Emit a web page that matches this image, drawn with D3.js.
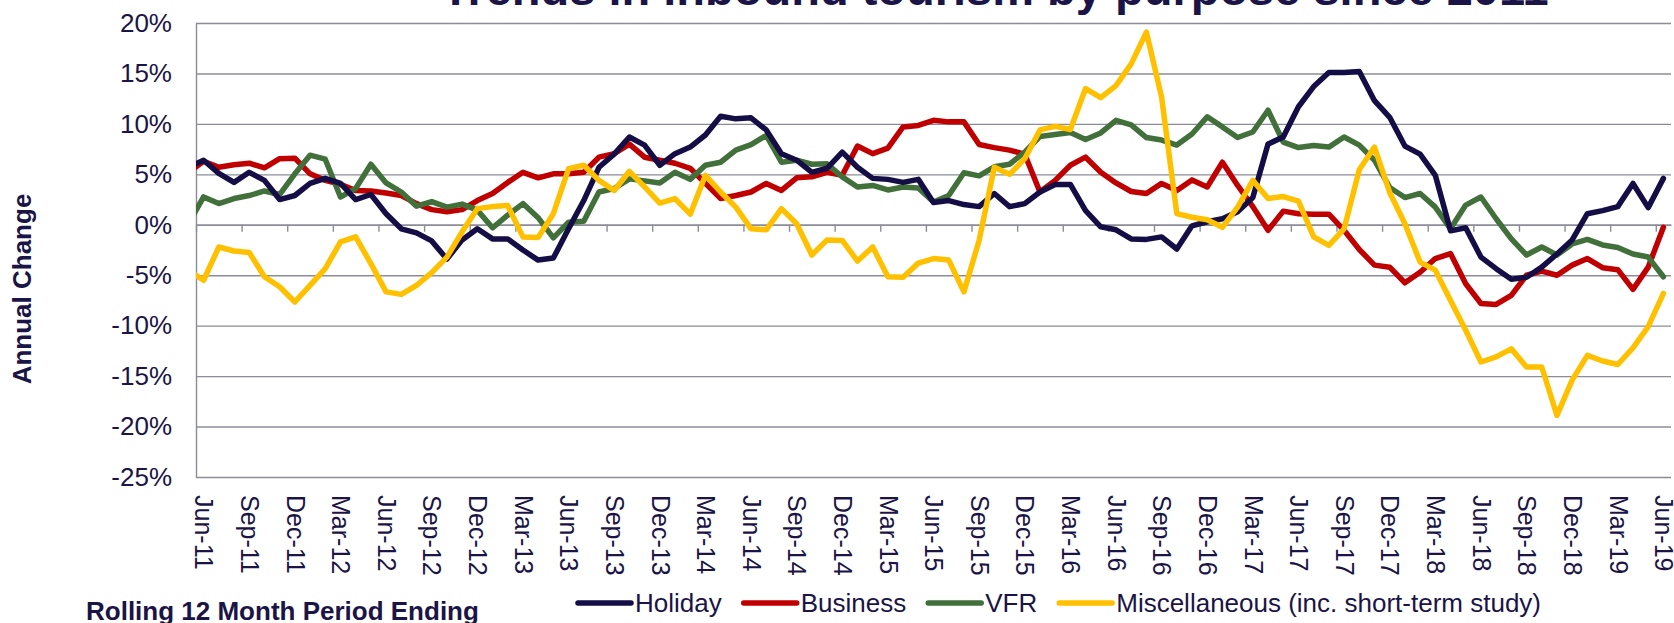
<!DOCTYPE html>
<html>
<head>
<meta charset="utf-8">
<script src="https://cdn.jsdelivr.net/npm/d3@7"></script>
<style>
  body { margin: 0; background: #fff; }
  svg { display: block; font-family: "Liberation Sans", Arial, sans-serif; }
</style>
</head>
<body>
<div id="chart"></div>
<script>
// first value is May-11, only a stub of it shows at the left edge of the plot
const firstMonth = new Date(2011, 4, 1);
const holiday = [5.7, 6.4, 5.1, 4.2, 5.2, 4.4, 2.5, 2.9, 4.1, 4.6, 4.1, 2.5, 3.0, 1.1, -0.4, -0.8, -1.6,
  -3.4, -1.5, -0.4, -1.4, -1.4, -2.5, -3.5, -3.3, -0.4, 2.4, 5.7, 7.0, 8.7, 7.9, 5.9, 7.05,
  7.7, 8.9, 10.75, 10.5, 10.6, 9.4, 7.05, 6.4, 5.2, 5.6, 7.2, 5.7, 4.6, 4.5, 4.2, 4.5,
  2.2, 2.4, 2.0, 1.8, 3.1, 1.8, 2.1, 3.25, 4.0, 4.0, 1.4, -0.2, -0.5, -1.4, -1.45, -1.2,
  -2.4, -0.1, 0.3, 0.6, 1.3, 2.7, 8.0, 8.7, 11.7, 13.7, 15.1, 15.1, 15.2, 12.3, 10.65, 7.8,
  7.0, 4.9, -0.6, -0.3, -3.2, -4.35, -5.4, -5.2, -4.2, -2.9, -1.5, 1.1, 1.4, 1.8, 4.1, 1.7, 4.6];
const business = [5.2, 6.3, 5.7, 5.95, 6.1, 5.65, 6.55, 6.6, 5.05, 4.4, 4.0, 3.4, 3.35, 3.15, 2.9, 2.1, 1.5,
  1.3, 1.5, 2.4, 3.1, 4.2, 5.2, 4.65, 5.05, 5.05, 5.2, 6.7, 7.05, 8.0, 6.7, 6.4, 6.1,
  5.6, 4.1, 2.6, 2.9, 3.25, 4.1, 3.4, 4.65, 4.75, 5.2, 4.9, 7.8, 7.05, 7.6, 9.7, 9.85,
  10.35, 10.2, 10.2, 7.95, 7.65, 7.4, 7.0, 3.25, 4.4, 5.9, 6.7, 5.2, 4.15, 3.3, 3.1, 4.1,
  3.4, 4.45, 3.75, 6.2, 3.9, 1.8, -0.55, 1.35, 1.1, 1.05, 1.05, -0.55, -2.45, -4.0, -4.2, -5.75,
  -4.7, -3.35, -2.85, -5.85, -7.8, -7.9, -7.0, -5.0, -4.6, -5.0, -4.0, -3.35, -4.25, -4.45, -6.4, -4.2, -0.25];
const vfr = [0.1, 2.76, 2.1, 2.6, 2.9, 3.35, 3.0, 5.05, 6.9, 6.5, 2.75, 3.6, 6.0, 4.15, 3.25, 1.85, 2.3,
  1.75, 2.05, 1.45, -0.3, 0.95, 2.1, 0.7, -1.3, 0.25, 0.35, 3.25, 3.6, 4.55, 4.35, 4.15, 5.2,
  4.5, 5.9, 6.2, 7.4, 7.95, 8.85, 6.2, 6.4, 6.0, 6.05, 4.75, 3.75, 3.9, 3.45, 3.75, 3.65,
  2.25, 2.9, 5.15, 4.85, 5.75, 6.0, 7.2, 8.75, 8.95, 9.15, 8.45, 9.1, 10.35, 9.9, 8.65, 8.4,
  7.9, 9.0, 10.7, 9.7, 8.65, 9.2, 11.35, 8.2, 7.65, 7.85, 7.7, 8.7, 7.9, 6.4, 3.7, 2.7,
  3.1, 1.75, -0.4, 1.95, 2.75, 0.6, -1.4, -3.0, -2.2, -3.0, -1.9, -1.45, -2.0, -2.25, -2.9, -3.2, -5.15];
const misc = [-4.5, -5.5, -2.2, -2.6, -2.75, -5.15, -6.15, -7.65, -6.0, -4.35, -1.7, -1.2, -3.85, -6.65, -6.9, -6.0, -4.75,
  -3.2, -0.7, 1.6, 1.8, 1.9, -1.2, -1.25, 1.1, 5.55, 5.9, 4.4, 3.4, 5.3, 3.75, 2.15, 2.6,
  1.05, 4.9, 3.25, 1.75, -0.4, -0.5, 1.6, 0.1, -3.0, -1.5, -1.55, -3.6, -2.2, -5.15, -5.2, -3.8,
  -3.35, -3.5, -6.65, -1.55, 5.7, 5.0, 6.55, 9.4, 9.75, 9.45, 13.5, 12.6, 13.8, 15.95, 19.1, 12.65,
  1.1, 0.75, 0.5, -0.25, 1.75, 4.4, 2.6, 2.8, 2.35, -1.2, -2.05, -0.4, 5.45, 7.7, 3.2, 0.1,
  -3.7, -4.5, -7.5, -10.45, -13.6, -13.1, -12.3, -14.1, -14.1, -18.9, -15.4, -12.95, -13.5, -13.85, -12.2, -10.1, -6.8];

const seriesNames = ["Holiday", "Business", "VFR", "Miscellaneous (inc. short-term study)"];
const seriesColors = ["#150d45", "#c00000", "#42703a", "#ffc000"];
const yTicks = [20, 15, 10, 5, 0, -5, -10, -15, -20, -25];

const months = d3.timeMonth.range(firstMonth, d3.timeMonth.offset(firstMonth, holiday.length));
const fmt = d3.timeFormat("%b-%y");
const monthIdx = months.map((d, i) => i - 1);         // Jun-11 = 0
const labelIdx = monthIdx.filter(i => i >= 0 && i % 3 === 0);

const width = 1674, height = 623;
const margin = { left: 196, top: 23, right: 3, bottom: 146 };
const innerWidth = width - margin.left - margin.right;
const innerHeight = height - margin.top - margin.bottom;
const textColor = "#1b1446";
const gridColor = "#8c8c98";

const svg = d3.select("#chart")
  .append("svg")
    .attr("width", width)
    .attr("height", height);

const innerChart = svg
  .append("g")
    .attr("transform", `translate(${margin.left}, ${margin.top})`);

const xScale = d3.scaleLinear()
  .domain([-0.5, labelIdx[labelIdx.length - 1] + 0.5])
  .range([0, innerWidth]);

const yScale = d3.scaleLinear()
  .domain([-25, 20])
  .range([innerHeight, 0]);

// gridlines
innerChart.append("g")
  .call(d3.axisLeft(yScale).tickValues(yTicks).tickSize(-innerWidth).tickFormat(""))
  .call(g => g.select(".domain").remove())
  .call(g => g.selectAll("line").attr("stroke", gridColor).attr("stroke-width", 1.4));

// y labels
innerChart.append("g")
  .call(d3.axisLeft(yScale).tickValues(yTicks).tickSize(0).tickPadding(24).tickFormat(d => d + "%"))
  .call(g => g.select(".domain").attr("stroke", gridColor).attr("stroke-width", 1.4))
  .call(g => g.selectAll("text").attr("fill", textColor).style("font-size", "26px"));

// category axis sits on 0%, ticks at category boundaries
innerChart.append("g")
  .attr("transform", `translate(0, ${yScale(0)})`)
  .call(d3.axisBottom(xScale).tickValues(labelIdx.map(i => i - 0.5)).tickSize(7).tickFormat("").tickSizeOuter(0))
  .call(g => g.selectAll("line, path").attr("stroke", gridColor).attr("stroke-width", 1.4));

// month labels at the bottom
innerChart.append("g")
  .attr("transform", `translate(0, ${innerHeight})`)
  .call(d3.axisBottom(xScale).tickValues(labelIdx).tickSize(0).tickFormat(i => fmt(months[i + 1])))
  .call(g => g.select(".domain").remove())
  .call(g => g.selectAll("text")
    .attr("transform", "rotate(90)")
    .attr("x", 18)
    .attr("y", 0)
    .attr("dy", "0.35em")
    .attr("text-anchor", "start")
    .attr("fill", textColor)
    .style("font-size", "25px"));

svg.append("clipPath")
  .attr("id", "plot-clip")
  .append("rect")
    .attr("width", innerWidth)
    .attr("height", innerHeight);

const lineGenerator = d3.line()
  .x((d, i) => xScale(monthIdx[i]))
  .y(d => yScale(d));

const allSeries = [holiday, business, vfr, misc];

// drawn back to front: misc on top
innerChart.append("g")
  .attr("clip-path", "url(#plot-clip)")
  .selectAll("path")
  .data([1, 2, 0, 3])
  .join("path")
    .attr("d", k => lineGenerator(allSeries[k]))
    .attr("fill", "none")
    .attr("stroke", k => seriesColors[k])
    .attr("stroke-width", 5.5)
    .attr("stroke-linejoin", "round")
    .attr("stroke-linecap", "round");

// title, mostly cut off at the top
svg.append("text")
  .attr("x", 995)
  .attr("y", 5)
  .attr("text-anchor", "middle")
  .attr("fill", textColor)
  .style("font-size", "47px")
  .style("font-weight", "bold")
  .text("Trends in inbound tourism by purpose since 2011");

svg.append("text")
  .attr("transform", "translate(31, 289) rotate(-90)")
  .attr("text-anchor", "middle")
  .attr("fill", textColor)
  .style("font-size", "26px")
  .style("font-weight", "bold")
  .text("Annual Change");

svg.append("text")
  .attr("x", 86)
  .attr("y", 620)
  .attr("fill", textColor)
  .style("font-size", "26px")
  .style("font-weight", "bold")
  .text("Rolling 12 Month Period Ending");

// legend
const legend = svg.append("g")
  .attr("transform", "translate(578, 603)");

let legendX = 0;
seriesNames.forEach((name, k) => {
  const item = legend.append("g").attr("transform", `translate(${legendX}, 0)`);
  item.append("line")
    .attr("x1", 0).attr("x2", 53)
    .attr("stroke", seriesColors[k])
    .attr("stroke-width", 5.5)
    .attr("stroke-linecap", "round");
  const label = item.append("text")
    .attr("x", 57)
    .attr("dy", "0.35em")
    .attr("fill", textColor)
    .style("font-size", "26px")
    .text(name);
  legendX += 57 + label.node().getComputedTextLength() + 22;
});
</script>
</body>
</html>
